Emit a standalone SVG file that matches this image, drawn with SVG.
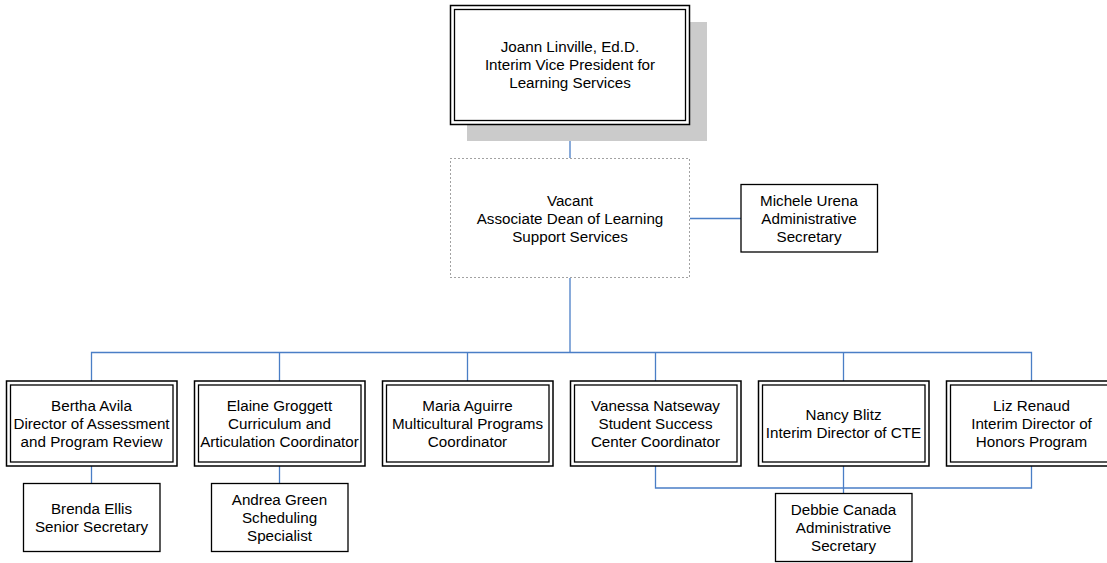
<svg xmlns="http://www.w3.org/2000/svg" width="1107" height="563" viewBox="0 0 1107 563">
<style>
text{font-family:"Liberation Sans",Arial,sans-serif;font-size:15.2px;fill:#000;text-anchor:middle}
.o{fill:#fff;stroke:#000;stroke-width:1.5}
.i{fill:none;stroke:#000;stroke-width:1.3}
.s{fill:#fff;stroke:#000;stroke-width:1.3}
.c{fill:none;stroke:#4a7ec6;stroke-width:1.3}
</style>
<g id="connectors">
<path class="c" d="M570 125V158"/>
<path class="c" d="M690 218.5H741"/>
<path class="c" d="M570 278V352.5"/>
<path class="c" d="M91.5 381V352.5H1031.5V381"/>
<path class="c" d="M279.5 352.5V381M467.5 352.5V381M655.5 352.5V381M843.5 352.5V381"/>
<path class="c" d="M91.5 466V483"/>
<path class="c" d="M279.5 466V483"/>
<path class="c" d="M655.5 466V488H1031.5V466"/>
<path class="c" d="M843.5 466V493"/>
</g>
<g id="vp">
<rect x="467" y="22" width="240" height="119" fill="#cbcbcb"/>
<rect class="o" x="450.5" y="5.5" width="239" height="119"/>
<rect class="i" x="454.5" y="9.5" width="231" height="111"/>
<text x="570" y="51.5">Joann Linville, Ed.D.</text>
<text x="570" y="69.5">Interim Vice President for</text>
<text x="570" y="88">Learning Services</text>
</g>
<g id="dean">
<rect x="450.5" y="158.5" width="239" height="119" fill="#fff" stroke="#444" stroke-width="1" stroke-dasharray="1,3"/>
<text x="570" y="205.5">Vacant</text>
<text x="570" y="223.5">Associate Dean of Learning</text>
<text x="570" y="241.5">Support Services</text>
</g>
<g id="michele">
<rect class="s" x="741" y="184.5" width="136.5" height="67.5"/>
<text x="809" y="205.5">Michele Urena</text>
<text x="809" y="223.5">Administrative</text>
<text x="809" y="241.5">Secretary</text>
</g>
<g id="bertha">
<rect class="o" x="6.5" y="381" width="170.5" height="85"/>
<rect class="i" x="10.5" y="385" width="162.5" height="77"/>
<text x="91.5" y="410.5">Bertha Avila</text>
<text x="91.5" y="428.5">Director of Assessment</text>
<text x="91.5" y="446.5">and Program Review</text>
</g>
<g id="elaine">
<rect class="o" x="194.5" y="381" width="170.5" height="85"/>
<rect class="i" x="198.5" y="385" width="162.5" height="77"/>
<text x="279.5" y="410.5">Elaine Groggett</text>
<text x="279.5" y="428.5">Curriculum and</text>
<text x="279.5" y="446.5">Articulation Coordinator</text>
</g>
<g id="maria">
<rect class="o" x="382.5" y="381" width="170.5" height="85"/>
<rect class="i" x="386.5" y="385" width="162.5" height="77"/>
<text x="467.5" y="410.5">Maria Aguirre</text>
<text x="467.5" y="428.5">Multicultural Programs</text>
<text x="467.5" y="446.5">Coordinator</text>
</g>
<g id="vanessa">
<rect class="o" x="570.5" y="381" width="170.5" height="85"/>
<rect class="i" x="574.5" y="385" width="162.5" height="77"/>
<text x="655.5" y="410.5">Vanessa Natseway</text>
<text x="655.5" y="428.5">Student Success</text>
<text x="655.5" y="446.5">Center Coordinator</text>
</g>
<g id="nancy">
<rect class="o" x="758.5" y="381" width="170.5" height="85"/>
<rect class="i" x="762.5" y="385" width="162.5" height="77"/>
<text x="843.5" y="419.5">Nancy Blitz</text>
<text x="843.5" y="437.5">Interim Director of CTE</text>
</g>
<g id="liz">
<rect class="o" x="946.5" y="381" width="170.5" height="85"/>
<rect class="i" x="950.5" y="385" width="162.5" height="77"/>
<text x="1031.5" y="410.5">Liz Renaud</text>
<text x="1031.5" y="428.5">Interim Director of</text>
<text x="1031.5" y="446.5">Honors Program</text>
</g>
<g id="brenda">
<rect class="s" x="23.5" y="483.5" width="136.5" height="68"/>
<text x="91.5" y="513.5">Brenda Ellis</text>
<text x="91.5" y="531.5">Senior Secretary</text>
</g>
<g id="andrea">
<rect class="s" x="211.5" y="483.5" width="136.5" height="68"/>
<text x="279.5" y="504.5">Andrea Green</text>
<text x="279.5" y="522.5">Scheduling</text>
<text x="279.5" y="540.5">Specialist</text>
</g>
<g id="debbie">
<rect class="s" x="775.5" y="493.5" width="136.5" height="68"/>
<text x="843.5" y="514.5">Debbie Canada</text>
<text x="843.5" y="532.5">Administrative</text>
<text x="843.5" y="550.5">Secretary</text>
</g>
</svg>
